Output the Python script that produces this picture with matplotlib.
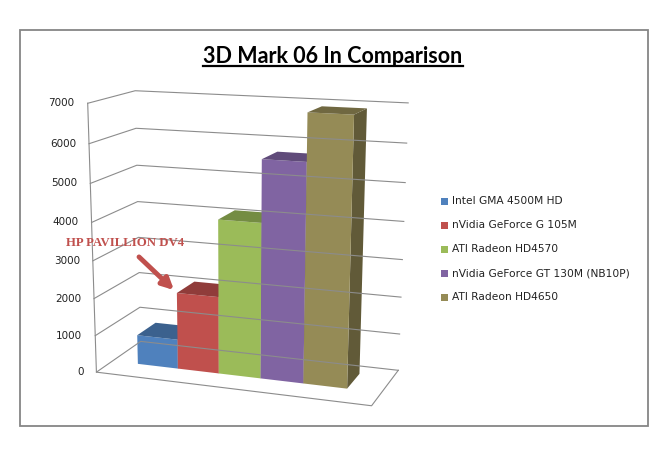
import numpy as np
import matplotlib.pyplot as plt
from matplotlib.patches import Polygon, Rectangle

title = '3D Mark 06 In Comparison'
cards = ['Intel GMA 4500M HD', 'nVidia GeForce G 105M', 'ATI Radeon HD4570',
         'nVidia GeForce GT 130M (NB10P)', 'ATI Radeon HD4650']
scores = [800, 2070, 4100, 5700, 6900]
yticks = [0, 1000, 2000, 3000, 4000, 5000, 6000, 7000]
ymax = 7000
colors = ['#4F81BD', '#C0504D', '#9BBB59', '#8064A2', '#958B56']
note = 'HP PAVILLION DV4'

# bar block inside the box (world units: x across, d depth, z height)
bx0, bx1 = 0.10, 0.88
d0, d1 = 0.35, 0.78

# --- perspective camera fitted to corners of the excel 3d box (pixels) ---
world = np.array([[0, 0, 0], [0, 0, 1], [0, 1, 1], [0, 1, 0],
                  [1, 1, 1], [1, 1, 0], [1, 0, 0],
                  [bx0, d0, 0], [bx1, d0, 0]], float)
screen = np.array([[96, 370], [87, 104], [136, 90], [140, 344],
                   [408, 103], [398, 368], [372, 407],
                   [139, 363], [347, 390]], float) / 100.0
rows = []
for X, (u, v) in zip(world, screen):
    Xh = np.append(X, 1.0)
    rows.append(np.concatenate([Xh, np.zeros(4), -u * Xh]))
    rows.append(np.concatenate([np.zeros(4), Xh, -v * Xh]))
_, _, vt = np.linalg.svd(np.array(rows))
P = vt[-1].reshape(3, 4)


def proj(x, d, z):
    p = P @ np.array([x, d, z, 1.0])
    return 100 * p[0] / p[2], 100 * p[1] / p[2]


def shade(c, f):
    r, g, b = plt.matplotlib.colors.to_rgb(c)
    return (r * f, g * f, b * f)


fig = plt.figure(figsize=(6.67, 4.57), dpi=100)
ax = fig.add_axes([0, 0, 1, 1])
ax.set_xlim(0, 667)
ax.set_ylim(457, 0)
ax.axis('off')

# chart border
ax.add_patch(Rectangle((20, 30), 628, 396, fill=False, edgecolor='#868686', lw=1.3))

grid_c = '#8c8c8c'
# gridlines on left and back wall
for t in yticks:
    z = t / ymax
    pts = np.array([proj(0, 0, z), proj(0, 1, z), proj(1, 1, z)])
    ax.plot(pts[:, 0], pts[:, 1], color=grid_c, lw=0.8)
    x0, y0 = proj(0, 0, z)
    ax.text(x0 - 13, y0, str(t), ha='right', va='center', fontsize=7.5, color='#222222')

# left axis edge and floor
pts = np.array([proj(0, 0, 1), proj(0, 0, 0), proj(1, 0, 0), proj(1, 1, 0)])
ax.plot(pts[:, 0], pts[:, 1], color=grid_c, lw=0.8)

# bars, left to right (right side is nearer to the viewer)
w = (bx1 - bx0) / len(scores)
for i, (v, c) in enumerate(zip(scores, colors)):
    xa = bx0 + i * w
    xb = xa + w
    z = v / ymax
    side = [proj(xb, d0, 0), proj(xb, d1, 0), proj(xb, d1, z), proj(xb, d0, z)]
    front = [proj(xa, d0, 0), proj(xb, d0, 0), proj(xb, d0, z), proj(xa, d0, z)]
    top = [proj(xa, d0, z), proj(xb, d0, z), proj(xb, d1, z), proj(xa, d1, z)]
    ax.add_patch(Polygon(side, closed=True, facecolor=shade(c, 0.65), edgecolor='none'))
    ax.add_patch(Polygon(front, closed=True, facecolor=c, edgecolor='none'))
    ax.add_patch(Polygon(top, closed=True, facecolor=shade(c, 0.75), edgecolor='none'))

# title with underline
tt = ax.text(333, 63, title, ha='center', va='baseline', fontsize=15.5,
             fontweight='bold', family='Lato', color='black')
fig.canvas.draw()
bb = tt.get_window_extent().transformed(ax.transData.inverted())
ax.plot([bb.x0, bb.x1], [65.5, 65.5], color='black', lw=1.6)

# legend
for i, (lab, c) in enumerate(zip(cards, colors)):
    y = 201 + i * 24
    ax.add_patch(Rectangle((441, y - 3.5), 7, 7, facecolor=c, edgecolor='none'))
    ax.text(452, y, lab, ha='left', va='center', fontsize=7.7, color='#222222')

# annotation
ax.text(125, 243, note, ha='center', va='center', fontsize=9.2, fontweight='bold',
        family='Liberation Serif', color='#C0504D')
ax.annotate('', xy=(176, 292), xytext=(137, 255),
            arrowprops=dict(arrowstyle='-|>', color='#C0504D', lw=3.5, mutation_scale=17))

fig.savefig('out.png', dpi=100)
